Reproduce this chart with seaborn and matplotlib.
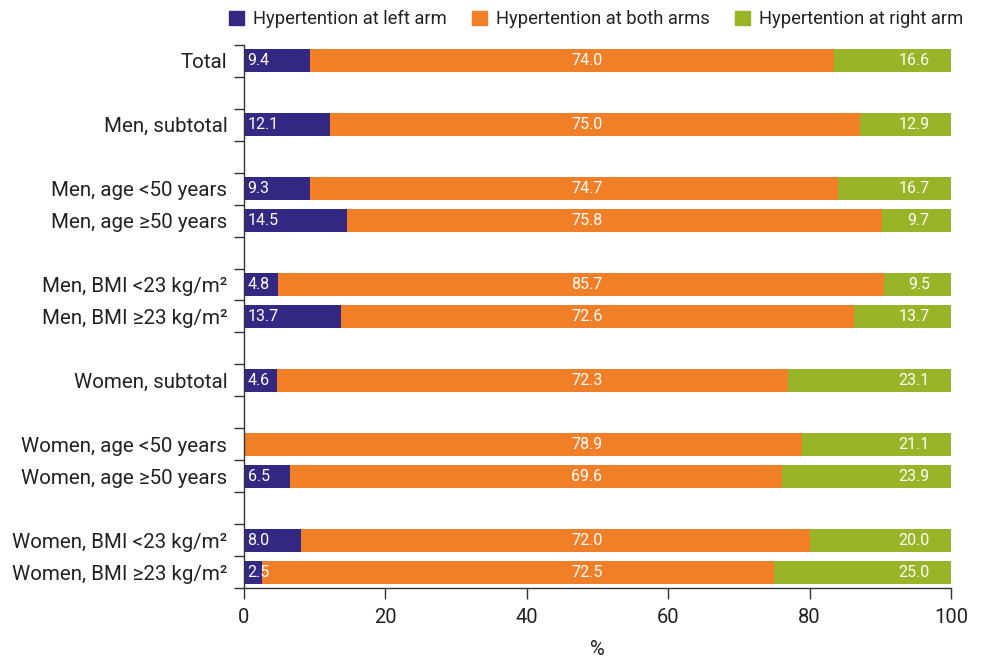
import matplotlib
matplotlib.use("Agg")
import matplotlib.pyplot as plt
import seaborn as sns
import pandas as pd
import numpy as np

# row labels, blank strings are spacer rows between groups
rows = ["Total", "", "Men, subtotal", " ", "Men, age <50 years", "Men, age \u226550 years",
        "  ", "Men, BMI <23 kg/m\u00b2", "Men, BMI \u226523 kg/m\u00b2", "   ",
        "Women, subtotal", "    ", "Women, age <50 years", "Women, age \u226550 years",
        "     ", "Women, BMI <23 kg/m\u00b2", "Women, BMI \u226523 kg/m\u00b2"]

groups = ["Total", "Men, subtotal", "Men, age <50 years", "Men, age \u226550 years",
          "Men, BMI <23 kg/m\u00b2", "Men, BMI \u226523 kg/m\u00b2", "Women, subtotal",
          "Women, age <50 years", "Women, age \u226550 years",
          "Women, BMI <23 kg/m\u00b2", "Women, BMI \u226523 kg/m\u00b2"]
left_arm = [9.4, 12.1, 9.3, 14.5, 4.8, 13.7, 4.6, 0.0, 6.5, 8.0, 2.5]
both_arms = [74.0, 75.0, 74.7, 75.8, 85.7, 72.6, 72.3, 78.9, 69.6, 72.0, 72.5]
right_arm = [16.6, 12.9, 16.7, 9.7, 9.5, 13.7, 23.1, 21.1, 23.9, 20.0, 25.0]

series = ["Hypertention at left arm", "Hypertention at both arms", "Hypertention at right arm"]
colors = ["#332882", "#F07F28", "#97B526"]

sns.set_style("white")
plt.rcParams['font.family'] = ['Roboto', 'DejaVu Sans']

df = pd.DataFrame({"group": groups, "left": left_arm, "both": both_arms, "right": right_arm})
df["cum_both"] = df["left"] + df["both"]
df["cum_right"] = df["cum_both"] + df["right"]

fig = plt.figure(figsize=(9.85, 6.6), dpi=100)
ax = fig.add_axes([0.2477, 0.109, 0.7178, 0.823])

# draw stacked bars as overlapping cumulative bars
for col, c in zip(["cum_right", "cum_both", "left"], colors[::-1]):
    sns.barplot(data=df, x=col, y="group", order=rows, color=c, width=0.72,
                orient="h", ax=ax, saturation=1, linewidth=0)

pos = {r: i for i, r in enumerate(rows)}
for _, r in df.iterrows():
    y = pos[r["group"]]
    if r["left"] > 0:
        ax.text(0.5, y, f"{r['left']:.1f}", color="white", va="center", ha="left", fontsize=11.5)
    ax.text(48.5, y, f"{r['both']:.1f}", color="white", va="center", ha="center", fontsize=11.5)
    ax.text(97, y, f"{r['right']:.1f}", color="white", va="center", ha="right", fontsize=11.5)

ax.set_xlim(0, 100)
ax.set_ylim(len(rows) - 0.5, -0.5)
ax.set_xticks(np.arange(0, 101, 20))
ax.set_yticks(range(len(rows)))
ax.set_yticklabels(rows)
ax.set_yticks(np.arange(-0.5, len(rows), 1), minor=True)
ax.tick_params(axis="y", which="major", length=0, labelsize=14.8, pad=12, labelcolor="#222222")
ax.tick_params(axis="y", which="minor", length=7, width=1, color="#333333", direction="out", left=True)
ax.tick_params(axis="x", length=8, width=1, color="#333333", direction="out", bottom=True,
               labelsize=14.5, pad=6, labelcolor="#222222")
ax.set_xlabel("%", fontsize=14.5, labelpad=10, color="#222222")
ax.set_ylabel("")
for s in ["top", "right"]:
    ax.spines[s].set_visible(False)
for s in ["left", "bottom"]:
    ax.spines[s].set_color("#333333")
    ax.spines[s].set_linewidth(1)

handles = [plt.Rectangle((0, 0), 1, 1, color=c) for c in colors]
fig.legend(handles, series, loc="upper right", bbox_to_anchor=(0.995, 1.01), ncol=3,
           frameon=False, fontsize=13.2, handlelength=0.8, handleheight=0.8,
           handletextpad=0.5, columnspacing=1.4, labelcolor="#222222")

fig.savefig("out.png", dpi=100)
